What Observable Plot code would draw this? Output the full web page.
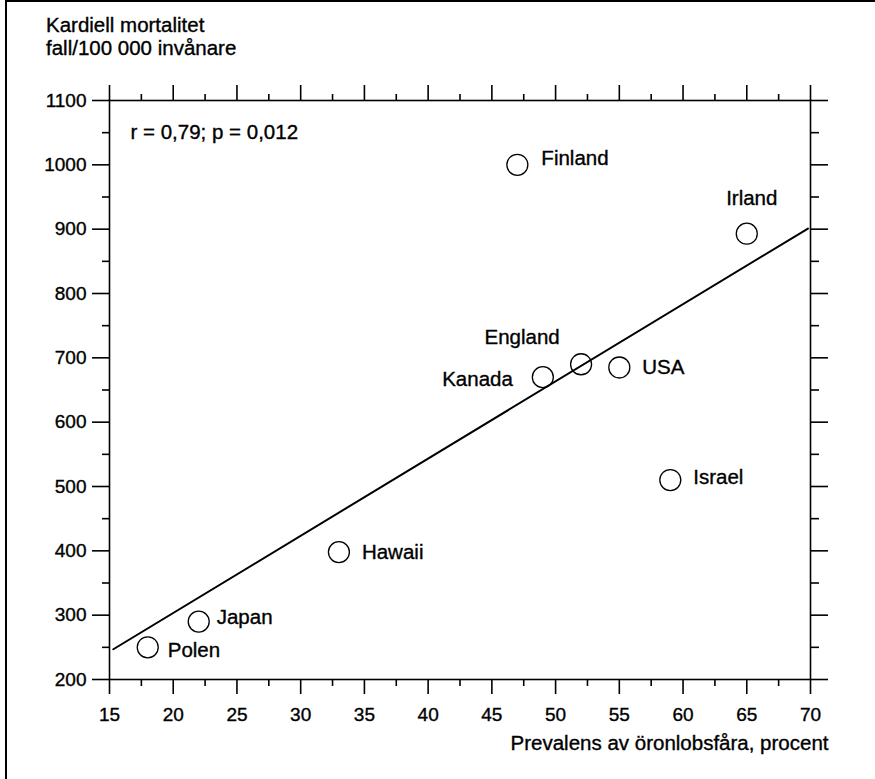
<!DOCTYPE html>
<html>
<head>
<meta charset="utf-8">
<script src="https://cdn.jsdelivr.net/npm/d3@7"></script>
<script src="https://cdn.jsdelivr.net/npm/@observablehq/plot@0.6"></script>
<style>
  html, body { margin: 0; padding: 0; background: #fff; }
  body { width: 875px; height: 779px; position: relative; overflow: hidden; font-family: "Liberation Sans", Arial, Helvetica, sans-serif; }
  #title { height: 70px; box-sizing: border-box; padding: 13px 0 0 46px; font-size: 20.5px; line-height: 23px; color: #000; -webkit-text-stroke: 0.35px #000; }
  #edgeL { position: absolute; left: 5px; top: 0; width: 2px; height: 779px; background: #000; }
  #edgeT { position: absolute; left: 5px; top: 0; width: 870px; height: 1.5px; background: #000; }
  svg { display: block; }
  svg text { stroke: #000; stroke-width: 0.35px; }
</style>
</head>
<body>
<div id="title">Kardiell mortalitet<br>fall/100 000 invånare</div>
<div id="chart"></div>
<div id="edgeL"></div>
<div id="edgeT"></div>
<script>
// ---- data ----
const countries  = ["Polen", "Japan", "Hawaii", "Kanada", "England", "USA", "Finland", "Israel", "Irland"];
const prevalence = [18, 22, 33, 49, 52, 55, 47, 59, 65];
const mortality  = [250, 290, 398, 670, 690, 685, 1000, 510, 893];

// regression line end points
const fitX = [15.3, 69.8];
const fitY = [247, 901];

const xTicks = [15, 20, 25, 30, 35, 40, 45, 50, 55, 60, 65, 70];
const xMinor = [17.5, 22.5, 27.5, 32.5, 37.5, 42.5, 47.5, 52.5, 57.5, 62.5, 67.5];
const yTicks = [200, 300, 400, 500, 600, 700, 800, 900, 1000, 1100];
const yMinor = [250, 350, 450, 550, 650, 750, 850, 950, 1050];

const statText = "r = 0,79; p = 0,012";
const xTitle = "Prevalens av öronlobsfåra, procent";

// ---- label placement (style, not data) ----
const placement = {
  Polen:   {dx: 20,  dy: 3,   anchor: "start"},
  Japan:   {dx: 18,  dy: -4,  anchor: "start"},
  Hawaii:  {dx: 23,  dy: 0,   anchor: "start"},
  Kanada:  {dx: -30, dy: 2,   anchor: "end"},
  England: {dx: -59, dy: -27, anchor: "middle"},
  USA:     {dx: 23,  dy: 0,   anchor: "start"},
  Finland: {dx: 24,  dy: -6,  anchor: "start"},
  Israel:  {dx: 23,  dy: -3,  anchor: "start"},
  Irland:  {dx: 5,   dy: -35, anchor: "middle"}
};

const points = countries.map((c, i) => ({country: c, x: prevalence[i], y: mortality[i]}));
const fit = fitX.map((x, i) => ({x, y: fitY[i]}));

const blank = () => "";
const sw = 1.6;
const labelSize = 20.5;
const tickSize = 19;

const labelMarks = points.map(p => {
  const pl = placement[p.country];
  return Plot.text([p], {x: "x", y: "y", text: "country", dx: pl.dx, dy: pl.dy,
    textAnchor: pl.anchor, lineAnchor: "middle", fill: "black", fontSize: labelSize});
});

const chart = Plot.plot({
  width: 875,
  height: 709,
  marginTop: 30,
  marginBottom: 100,
  marginLeft: 109,
  marginRight: 65,
  x: {domain: [15, 70]},
  y: {domain: [200, 1100]},
  style: {fontFamily: "'Liberation Sans', Arial, Helvetica, sans-serif", fontSize: "19px", color: "#000", background: "#fff", overflow: "visible"},
  marks: [
    Plot.axisX({anchor: "bottom", ticks: xTicks, tickSize: 15, tickPadding: 13, tickFormat: d => String(d), label: null, strokeWidth: sw, fontSize: tickSize}),
    Plot.axisX({anchor: "bottom", ticks: xMinor, tickSize: 7, tickFormat: blank, label: null, strokeWidth: sw}),
    Plot.axisX({anchor: "top", ticks: xTicks, tickSize: 16, tickFormat: blank, label: null, strokeWidth: sw}),
    Plot.axisX({anchor: "top", ticks: xMinor, tickSize: 7, tickFormat: blank, label: null, strokeWidth: sw}),
    Plot.axisY({anchor: "left", ticks: yTicks, tickSize: 17, tickPadding: 6, tickFormat: d => String(d), label: null, strokeWidth: sw, fontSize: tickSize}),
    Plot.axisY({anchor: "left", ticks: yMinor, tickSize: 7, tickFormat: blank, label: null, strokeWidth: sw}),
    Plot.axisY({anchor: "right", ticks: yTicks, tickSize: 17, tickFormat: blank, label: null, strokeWidth: sw}),
    Plot.axisY({anchor: "right", ticks: yMinor, tickSize: 8, tickFormat: blank, label: null, strokeWidth: sw}),
    Plot.frame({stroke: "black", strokeWidth: sw}),
    Plot.line(fit, {x: "x", y: "y", stroke: "black", strokeWidth: 2}),
    Plot.dot(points, {x: "x", y: "y", r: 10.5, stroke: "black", fill: "none", strokeWidth: 1.3}),
    ...labelMarks,
    Plot.text([statText], {frameAnchor: "top-left", dx: 21, dy: 32, textAnchor: "start", lineAnchor: "middle", fill: "black", fontSize: labelSize}),
    Plot.text([xTitle], {frameAnchor: "bottom-right", dx: 18, dy: 64, textAnchor: "end", lineAnchor: "middle", fill: "black", fontSize: labelSize})
  ]
});
document.getElementById("chart").appendChild(chart);
</script>
</body>
</html>
